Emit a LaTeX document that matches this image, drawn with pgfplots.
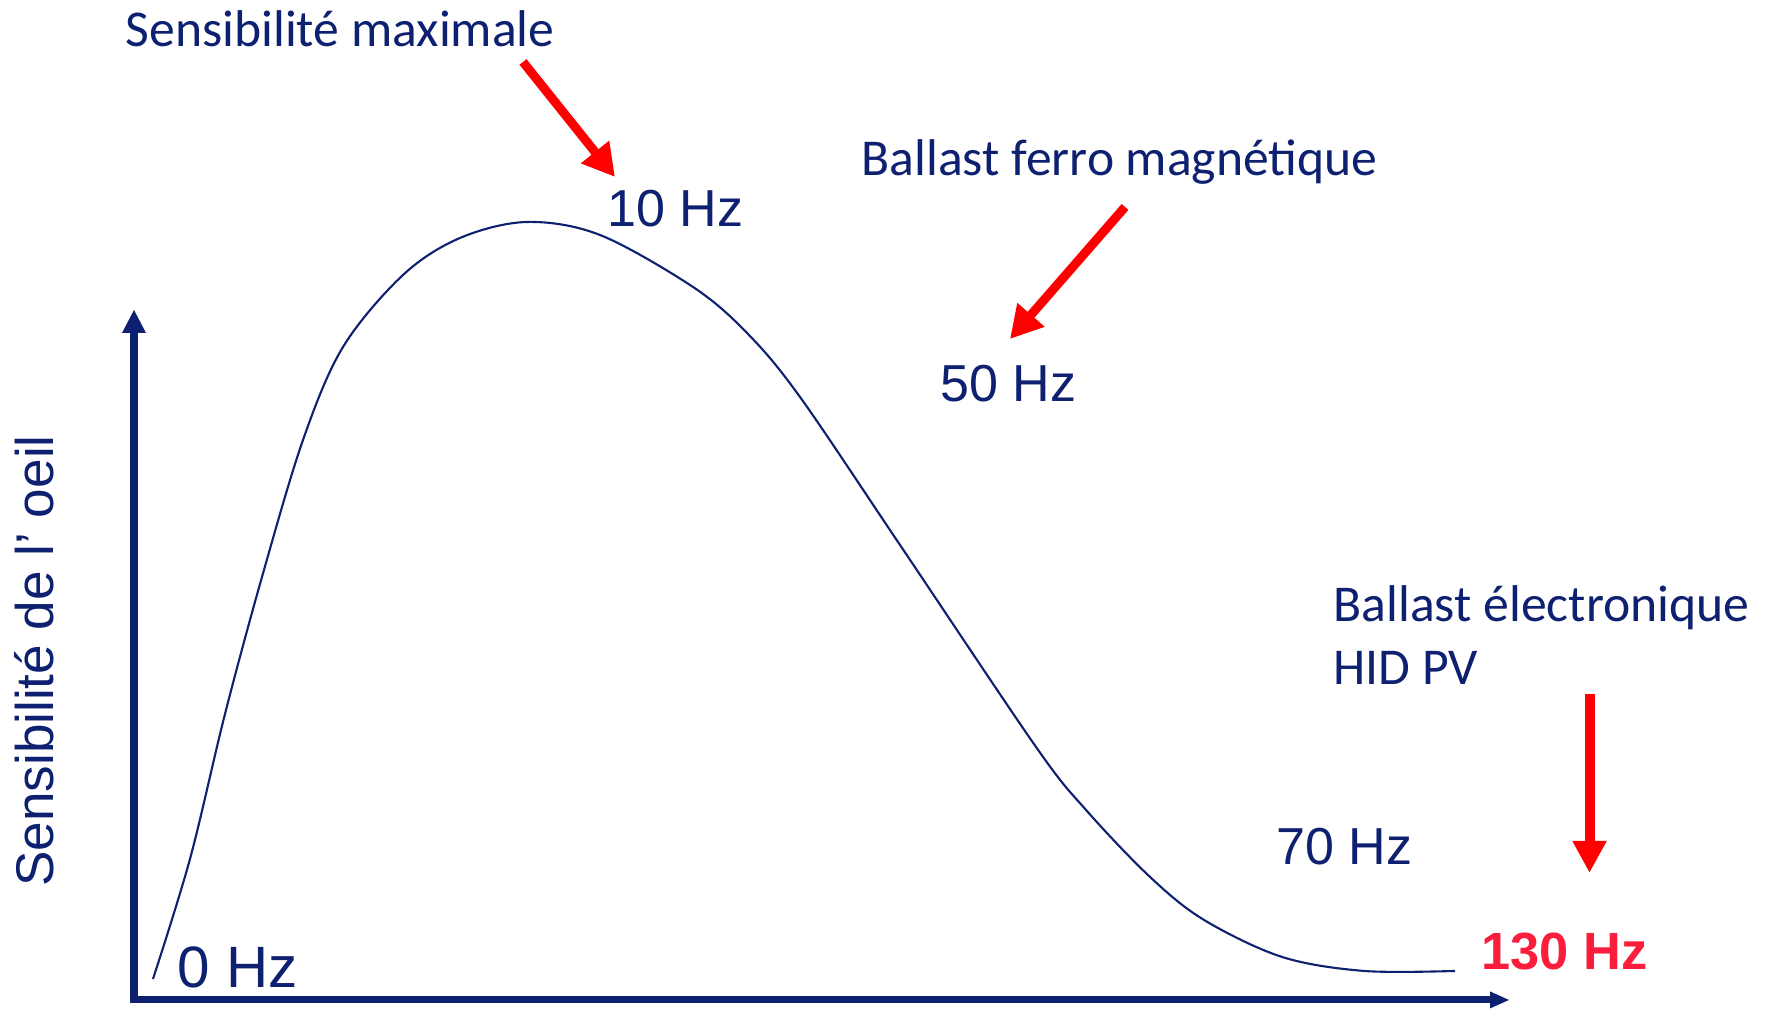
\documentclass[border=0pt]{standalone}
\usepackage{fontspec}
\setmainfont{Liberation Sans}
\newfontfamily\gill{Carlito}
\usepackage{pgfplots}
\pgfplotsset{compat=1.18}
\usetikzlibrary{arrows.meta}
\definecolor{navy}{RGB}{14,32,112}
\definecolor{hzred}{RGB}{250,30,60}
\definecolor{arred}{RGB}{255,0,0}
\begin{document}
\begin{tikzpicture}
\begin{axis}[
  at={(1.34cm,0.09cm)}, anchor=origin,
  scale only axis,
  width=13.75cm, height=6.90cm,
  xmin=134, xmax=1509, ymin=9, ymax=699,
  axis lines=left,
  x axis line style={draw=navy, line width=2pt, line cap=rect, -{Triangle[length=0.19cm,width=0.17cm,line width=0pt]}},
  y axis line style={draw=navy, line width=2pt, line cap=rect, -{Triangle[length=0.23cm,width=0.24cm,line width=0pt]}},
  xtick=\empty, ytick=\empty,
  clip=false,
]
\addplot[navy, line width=0.6pt, smooth, tension=0.55] coordinates {
 (153,30) (190,150) (225,295) (262,432) (303,569) (343,662) (403,734)
 (460,771) (527,787) (600,774) (693,722) (747,676) (800,612) (900,464)
 (1036,262) (1086,199) (1150,132) (1204,89) (1282,52) (1364,38) (1455,38)
};
% bounding frame of the picture
\path (axis cs:0,0) rectangle (axis cs:1767,1009);
% annotation arrows
\draw[arred, line width=0.09cm, -{Triangle[length=0.32cm,width=0.34cm]}] (axis cs:523,947) -- (axis cs:615,832);
\draw[arred, line width=0.09cm, -{Triangle[length=0.32cm,width=0.34cm]}] (axis cs:1125,802) -- (axis cs:1010,670);
\draw[arred, line width=0.10cm, -{Triangle[length=0.32cm,width=0.32cm]}] (axis cs:1589.5,315) -- (axis cs:1589.5,136);
% texts
\node[anchor=base west, inner sep=0, text=navy, font=\gill\fontsize{14.7}{17}\selectfont] at (axis cs:125,962) {Sensibilité maximale};
\node[anchor=base west, inner sep=0, text=navy, font=\gill\fontsize{14.7}{17}\selectfont] at (axis cs:861,833) {Ballast ferro magnétique};
\node[anchor=base west, inner sep=0, text=navy, font=\gill\fontsize{14.7}{17}\selectfont] at (axis cs:1333,387) {Ballast électronique};
\node[anchor=base west, inner sep=0, text=navy, font=\gill\fontsize{14.7}{17}\selectfont] at (axis cs:1333,324) {HID PV};
\node[anchor=base west, inner sep=0, text=navy, font=\fontsize{14.8}{17}\selectfont] at (axis cs:607,782) {10 Hz};
\node[anchor=base west, inner sep=0, text=navy, font=\fontsize{14.8}{17}\selectfont] at (axis cs:940,607) {50 Hz};
\node[anchor=base west, inner sep=0, text=navy, font=\fontsize{14.8}{17}\selectfont] at (axis cs:1276,144) {70 Hz};
\node[anchor=base west, inner sep=0, text=navy, font=\fontsize{16.6}{19}\selectfont] at (axis cs:177,21) {0 Hz};
\node[anchor=base west, inner sep=0, text=hzred, font=\bfseries\fontsize{14.9}{17}\selectfont] at (axis cs:1481,39) {130 Hz};
\node[anchor=base, rotate=90, inner sep=0, text=navy, font=\fontsize{15.1}{17}\selectfont] at (axis cs:54,348) {Sensibilité de l’ oeil};
\end{axis}
\end{tikzpicture}
\end{document}
